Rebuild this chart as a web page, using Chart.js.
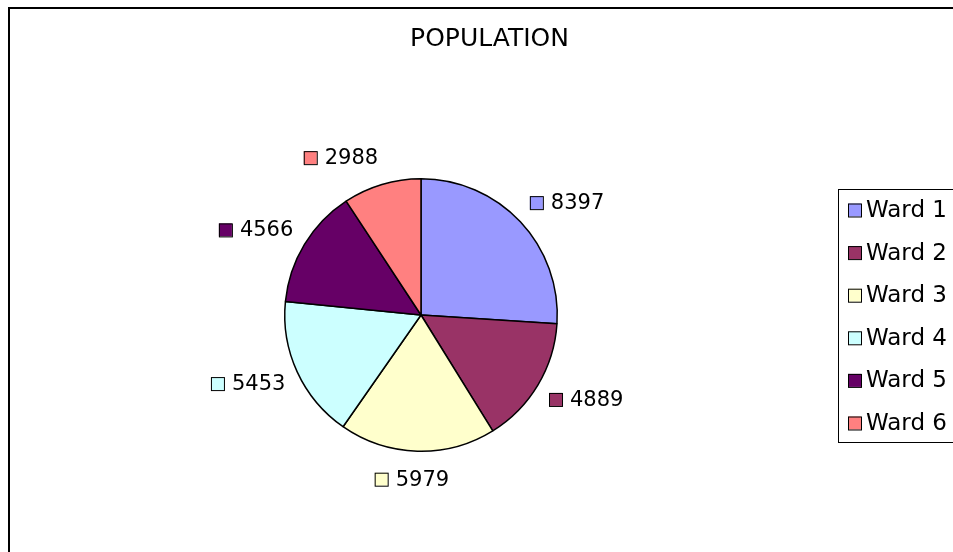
<!DOCTYPE html>
<html>
<head>
<meta charset="utf-8">
<script src="https://cdn.jsdelivr.net/npm/chart.js@4/dist/chart.umd.min.js"></script>
<style>
html,body{margin:0;padding:0;background:#fff;overflow:hidden;}
#wrap{position:absolute;left:0;top:0;width:953px;height:552px;}
</style>
</head>
<body>
<div id="wrap"><canvas id="pie"></canvas></div>
<script>

/* data */

const chartTitle = "POPULATION";
const wards = ["Ward 1","Ward 2","Ward 3","Ward 4","Ward 5","Ward 6"];
const population = [8397,4889,5979,5453,4566,2988];
const wardColors = ["#9999FF","#993366","#FFFFCC","#CCFFFF","#660066","#FF8080"];

const font = "DejaVu Sans";

/* frame, title, outside labels and legend drawn around the pie */

const extras = {
id:"extras",
beforeDraw(chart){
const c=chart.ctx;
c.save();
c.fillStyle="#fff";
c.fillRect(0,0,chart.width,chart.height);
c.strokeStyle="#000";
c.lineWidth=2;
c.beginPath();
c.moveTo(9,chart.height);
c.lineTo(9,8);
c.lineTo(chart.width,8);
c.stroke();
c.restore();
},
afterDatasetsDraw(chart){
const c=chart.ctx;
c.save();

// title
c.fillStyle="#000";
c.font="25px '"+font+"'";
c.textAlign="center";
c.textBaseline="middle";
c.fillText(chartTitle,489.5,39);

// value labels with key square, pushed out like excel's best fit
c.font="21px '"+font+"'";
c.textAlign="left";
const arcs=chart.getDatasetMeta(0).data;
arcs.forEach((arc,i)=>{
const p=arc.getProps(["x","y","startAngle","endAngle","outerRadius"],true);
const mid=(p.startAngle+p.endAngle)/2;
const dx=Math.cos(mid), dy=Math.sin(mid);
const txt=String(population[i]);
const tw=c.measureText(txt).width;
const w=13+8+tw, h=30;
const ax=p.x+dx*(p.outerRadius+13);
const ay=p.y+dy*(p.outerRadius+13);
const k=Math.sign(dx)*Math.min(1,Math.abs(dx)*5);
const cx=ax+k*w/2, cy=ay+dy*h/2;
const left=cx-w/2;
c.fillStyle=wardColors[i];
c.fillRect(left,cy-6.5,13,13);
c.strokeStyle="#000";
c.lineWidth=1;
c.strokeRect(left+0.5,cy-6,13,13);
c.fillStyle="#000";
c.fillText(txt,left+21,cy+1);
});

// legend box
c.font="23px '"+font+"'";
c.strokeStyle="#000";
c.lineWidth=1;
c.strokeRect(838.5,189.5,130,253);
wards.forEach((w,i)=>{
const y=210+i*42.6;
c.fillStyle=wardColors[i];
c.fillRect(848,y-6.5,13,13);
c.strokeRect(848.5,y-6,13,13);
c.fillStyle="#000";
c.fillText(w,866,y+1);
});

c.restore();
}
};

new Chart(document.getElementById("pie"),{
type:"pie",
data:{
labels:wards,
datasets:[{
data:population,
backgroundColor:wardColors,
borderColor:"#000",
borderWidth:1.5,
hoverOffset:0,
offset:0
}]
},
options:{
responsive:true,
maintainAspectRatio:false,
animation:false,
events:[],
layout:{padding:{left:284,right:395,top:178,bottom:100}},
plugins:{
legend:{display:false},
title:{display:false},
tooltip:{enabled:false}
}
},
plugins:[extras]
});

</script>
</body>
</html>
